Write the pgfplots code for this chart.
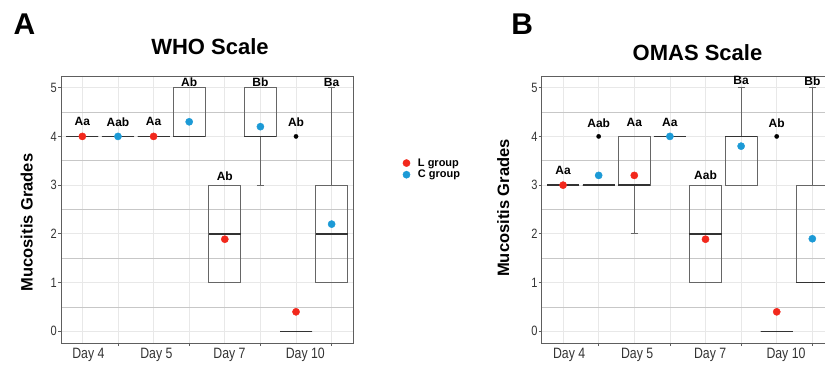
\documentclass[border=0pt]{standalone}
\usepackage{pgfplots}
\pgfplotsset{compat=1.18}
\usepgfplotslibrary{statistics}
\usepackage{pgfplotstable}
\usepackage{fontspec}
\setmainfont{Liberation Sans}
\newfontfamily\narrowfont[FakeStretch=0.82]{Liberation Sans}
\definecolor{lred}{HTML}{F2281C}
\definecolor{cblue}{HTML}{1C9AD6}
\definecolor{axgray}{HTML}{5E5E5E}
\definecolor{boxgray}{HTML}{666666}

\pgfplotstableread{
x y lab
1 4.30 Aa
2 4.30 Aab
3 4.31 Aa
4 5.11 Ab
5 3.19 Ab
6 5.11 Bb
7 4.29 Ab
8 5.10 Ba
}\labA
\pgfplotstableread{
x y lab
1 3.30 Aa
2 4.28 Aab
3 4.28 Aa
4 4.29 Aa
5 3.21 Aab
6 5.14 Ba
7 4.28 Ab
8 5.14 Bb
}\labB

\pgfplotsset{
  panel/.style={
    scale only axis, width=292pt, height=267pt,
    xmin=0.4, xmax=8.6, ymin=-0.24, ymax=5.24,
    clip=false,
    axis line style={draw=axgray, line width=0.8pt},
    tick pos=left, tick align=outside,
    major tick length=3pt, minor tick length=0pt,
    tick style={draw=axgray, line width=0.8pt},
    xtick={2,4,6,8}, xticklabels={},
    minor xtick={1,2,...,8}, xminorgrids,
    ytick={0,1,...,5}, ymajorgrids,
    minor ytick={0.5,1.5,...,4.5}, yminorgrids,
    minor x grid style={draw=black!9, line width=0.8pt},
    major y grid style={draw=black!9, line width=0.8pt},
    minor y grid style={draw=black!22, line width=0.8pt},
    /pgf/number format/assume math mode=true,
    yticklabel style={font=\narrowfont\fontsize{13.5}{15}\selectfont, text=black!80, inner sep=0pt, xshift=-1pt},
    extra x ticks={1.17,3.08,5.13,7.26},
    extra x tick labels={Day 4,Day 5,Day 7,Day 10},
    extra x tick style={major tick length=0pt, grid=none,
      xticklabel style={font=\narrowfont\fontsize{15}{17}\selectfont, text=black!80, inner sep=0pt, yshift=-4.5pt}},
    boxplot/draw direction=y,
    boxplot/box extend=0.9,
    boxplot/whisker extend=0.2,
    boxplot/every box/.style={draw=boxgray, line width=1pt},
    boxplot/every whisker/.style={draw=boxgray, line width=1pt},
    boxplot/every median/.style={draw=black!80, line width=1.6pt},
  },
  bxp/.style={forget plot, draw=boxgray, mark=*, mark size=2.2pt, mark options={fill=black, draw=black, line width=0.2pt}},
  meanL/.style={only marks, mark=*, mark size=3.6pt, mark options={fill=lred, draw=lred}, color=lred},
  meanC/.style={only marks, mark=*, mark size=3.6pt, mark options={fill=cblue, draw=cblue}, color=cblue},
  labs/.style={forget plot, only marks, mark=none, nodes near coords, point meta=explicit symbolic,
    every node near coord/.append style={anchor=center, inner sep=0pt, font=\bfseries\fontsize{12}{14}\selectfont, text=black}},
}

\begin{document}
\begin{tikzpicture}[x=1pt,y=1pt]
\useasboundingbox (0,0) rectangle (825,365);
\clip (0,0) rectangle (825,365);
% ---------------- Panel A ----------------
\begin{axis}[panel, at={(61pt,22pt)}, anchor=south west,
  legend style={at={(axis description cs:1.1695,0.652)}, anchor=west, draw=none, fill=none,
    font=\bfseries\fontsize{11}{13}\selectfont, inner sep=0pt, row sep=0.5pt,
    nodes={inner sep=1pt}},
  legend cell align=left,
  legend image code/.code={\draw[#1] plot coordinates {(0pt,0pt)}; \path (-3.6pt,0pt) (10.3pt,0pt);},
]
\addplot[bxp, boxplot prepared={draw position=1, lower whisker=4, lower quartile=4, median=4, upper quartile=4, upper whisker=4}] coordinates {};
\addplot[bxp, boxplot prepared={draw position=2, lower whisker=4, lower quartile=4, median=4, upper quartile=4, upper whisker=4}] coordinates {};
\addplot[bxp, boxplot prepared={draw position=3, lower whisker=4, lower quartile=4, median=4, upper quartile=4, upper whisker=4}] coordinates {};
\addplot[bxp, boxplot prepared={draw position=4, lower whisker=4, lower quartile=4, median=4, upper quartile=5, upper whisker=5}] coordinates {};
\addplot[bxp, boxplot prepared={draw position=5, lower whisker=1, lower quartile=1, median=2, upper quartile=3, upper whisker=3}] coordinates {};
\addplot[bxp, boxplot prepared={draw position=6, lower whisker=3, lower quartile=4, median=4, upper quartile=5, upper whisker=5}] coordinates {};
\addplot[bxp, boxplot prepared={draw position=7, lower whisker=0, lower quartile=0, median=0, upper quartile=0, upper whisker=0}] coordinates {(0,4)};
\addplot[bxp, boxplot prepared={draw position=8, lower whisker=1, lower quartile=1, median=2, upper quartile=3, upper whisker=5}] coordinates {};
\addplot[meanL] coordinates {(1,4) (3,4) (5,1.89) (7,0.40)};
\addlegendentry{L group}
\addplot[meanC] coordinates {(2,4) (4,4.30) (6,4.20) (8,2.20)};
\addlegendentry{C group}
\addplot[labs] table[x=x, y=y, meta=lab] {\labA};
\end{axis}
% ---------------- Panel B ----------------
\begin{axis}[panel, at={(541.7pt,22pt)}, anchor=south west]
\addplot[bxp, boxplot prepared={draw position=1, lower whisker=3, lower quartile=3, median=3, upper quartile=3, upper whisker=3}] coordinates {};
\addplot[bxp, boxplot prepared={draw position=2, lower whisker=3, lower quartile=3, median=3, upper quartile=3, upper whisker=3}] coordinates {(0,4)};
\addplot[bxp, boxplot prepared={draw position=3, lower whisker=2, lower quartile=3, median=3, upper quartile=4, upper whisker=4}] coordinates {};
\addplot[bxp, boxplot prepared={draw position=4, lower whisker=4, lower quartile=4, median=4, upper quartile=4, upper whisker=4}] coordinates {};
\addplot[bxp, boxplot prepared={draw position=5, lower whisker=1, lower quartile=1, median=2, upper quartile=3, upper whisker=3}] coordinates {};
\addplot[bxp, boxplot prepared={draw position=6, lower whisker=3, lower quartile=3, median=4, upper quartile=4, upper whisker=5}] coordinates {};
\addplot[bxp, boxplot prepared={draw position=7, lower whisker=0, lower quartile=0, median=0, upper quartile=0, upper whisker=0}] coordinates {(0,4)};
\addplot[bxp, boxplot prepared={draw position=8, lower whisker=1, lower quartile=1, median=1, upper quartile=3, upper whisker=5}] coordinates {};
\addplot[meanL] coordinates {(1,3) (3,3.20) (5,1.89) (7,0.40)};
\addplot[meanC] coordinates {(2,3.20) (4,4.00) (6,3.80) (8,1.90)};
\addplot[labs] table[x=x, y=y, meta=lab] {\labB};
\end{axis}
% ---------------- Titles and labels ----------------
\node[inner sep=0pt, font=\bfseries\fontsize{30}{34}\selectfont] at (24.5,340.8) {A};
\node[inner sep=0pt, font=\bfseries\fontsize{30}{34}\selectfont] at (522.2,340.8) {B};
\node[inner sep=0pt, font=\bfseries\fontsize{22}{26}\selectfont] at (210,318.7) {WHO Scale};
\node[inner sep=0pt, font=\bfseries\fontsize{22}{26}\selectfont] at (697.5,312.8) {OMAS Scale};
\node[inner sep=0pt, rotate=90, font=\bfseries\fontsize{16.5}{19}\selectfont] at (26.7,142.5) {Mucositis Grades};
\node[inner sep=0pt, rotate=90, font=\bfseries\fontsize{16.5}{19}\selectfont] at (503.3,157) {Mucositis Grades};
\end{tikzpicture}
\end{document}
